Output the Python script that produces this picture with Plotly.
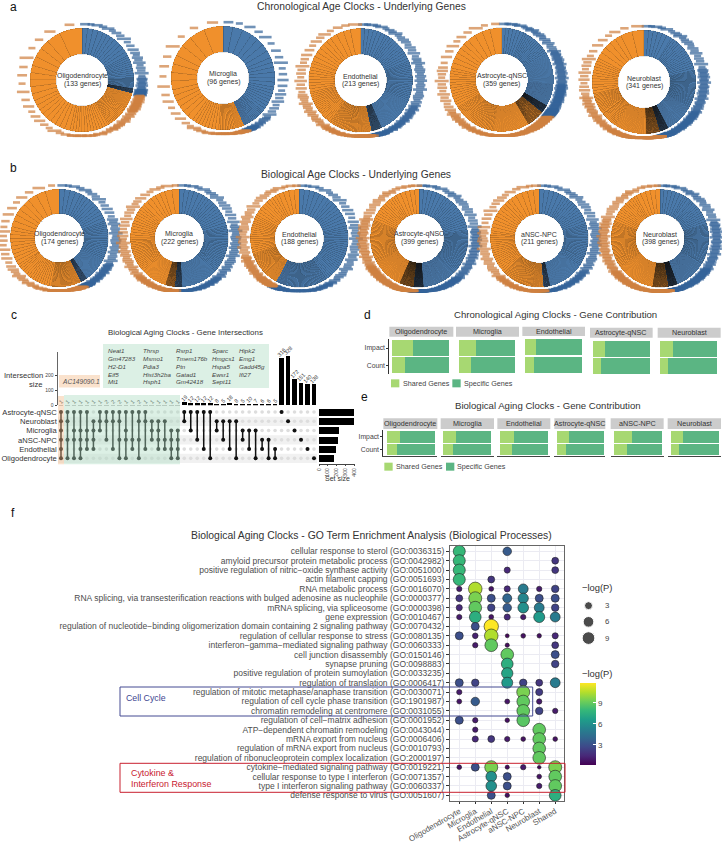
import numpy as np
import plotly.graph_objects as go

W, H = 722, 844
FONT = "Liberation Sans"
BLUE, ORANGE = "#4a79aa", "#f0902c"
LBL_BLUE, LBL_ORANGE = "#35649a", "#cf8040"
SHARED, SPECIFIC = "#a7d872", "#5bb583"

# ---------- donuts: wedge runs (count, degrees per wedge) clockwise from top
A_TITLE = "Chronological Age Clocks - Underlying Genes"
B_TITLE = "Biological Age Clocks - Underlying Genes"
donut_names_a = ["Oligodendrocyte", "Microglia", "Endothelial", "Astrocyte-qNSC", "Neuroblast"]
donut_genes_a = [133, 96, 213, 359, 341]
donut_split_a = [105, 156, 168, 129, 162]
blue_n_a = [[4, 8, 10, 10, 26], [3, 4, 6, 8, 9, 20], [6, 12, 22, 35, 40], [6, 14, 30, 45, 80], [6, 16, 33, 50, 75]]
blue_w_a = [[6, 4.5, 2.5, 1.2, .2], [12, 9, 6, 4, 2, .5], [4, 2.8, 1.8, 1, .25], [3, 1.8, .8, .4, .08], [4, 2.2, 1, .5, .1]]
orange_n_a = [[27, 16, 13, 9, 5, 3, 1, 1], [14, 10, 8, 6, 4, 2, 1, 1], [35, 25, 18, 10, 6, 3, 1], [80, 50, 30, 14, 6, 3, 1], [70, 45, 27, 12, 5, 2]]
orange_w_a = [[.6, 1.6, 3.2, 5.5, 7.5, 10, 15, 24], [.7, 2, 4, 7, 10, 13, 18, 22], [.5, 1.5, 2.5, 4, 6, 9, 13], [.25, .8, 1.6, 3.2, 6, 9, 13], [.25, .9, 1.8, 3.8, 8, 15]]

donut_names_b = ["Oligodendrocyte", "Microglia", "Endothelial", "Astrocyte-qNSC", "aNSC-NPC", "Neuroblast"]
donut_genes_b = [174, 222, 188, 399, 211, 398]
donut_split_b = [154, 185, 208, 187, 175, 170]
blue_n_b = [[4, 10, 20, 26, 30], [5, 12, 28, 35, 35], [5, 10, 25, 35, 30], [6, 15, 35, 60, 89], [5, 12, 25, 35, 33], [6, 15, 35, 60, 89]]
blue_w_b = [[6, 4, 2.2, 1, .25], [5, 3.2, 1.8, 1, .2], [5, 3.5, 2.2, 1.2, .3], [4, 2.4, 1.2, .5, .1], [5, 3, 1.8, 1, .2], [4, 2.4, 1.2, .5, .1]]
orange_n_b = [[30, 20, 16, 10, 5, 2, 1], [40, 28, 20, 12, 5, 2], [30, 22, 18, 9, 4], [90, 55, 32, 12, 5], [38, 28, 20, 10, 5], [85, 55, 35, 13, 5]]
orange_w_b = [[.4, 1.3, 3.2, 5, 8, 12, 18], [.3, 1.1, 2.2, 3.6, 6, 9], [.5, 1.2, 2.5, 3.8, 6], [.2, .7, 1.7, 3.5, 6], [.35, 1.3, 2.6, 4.4, 7], [.25, .9, 1.8, 3.4, 6.5]]
gene_label_widths = [7, 5, 8, 6, 9, 5, 7, 6, 10, 5, 6, 8]

# ---------- upset
set_names = ["Astrocyte-qNSC", "Neuroblast", "Microglia", "aNSC-NPC", "Endothelial", "Oligodendrocyte"]
set_sizes = [399, 398, 222, 211, 188, 174]
combos = ["ANMaEO", "ANaO", "AMaO", "AMaEO", "AMaE", "NMaE", "ANM", "ANa", "ANE", "ANaO", "AMaO", "AaE", "ANaO", "ANE",
          "NMa", "NMaE", "NaE", "MaEO", "MaEO",
          "AN", "AM", "Aa", "AE", "AO", "NM", "Na", "NE", "NO", "Ma", "ME", "MO", "aE", "aO", "EO",
          "A", "N", "M", "a", "E", "O"]
combo_sizes = [1, 1, 1, 1, 1, 1, 1, 2, 2, 2, 1, 1, 2, 1, 1, 1, 1, 1, 1,
               19, 12, 12, 12, 12, 8, 5, 18, 8, 5, 10, 7, 6, 6, 5,
               316, 328, 172, 151, 140, 138]
combo_key = "ANMaEO"
gene_cols = [["Neat1", "Gm47283", "H2-D1", "Eif5", "Mt1"],
             ["Thrsp", "Msmo1", "Pdia3", "Hist3h2ba", "Hsph1"],
             ["Rsrp1", "Tmem176b", "Ptn", "Gatad1", "Gm42418"],
             ["Sparc", "Hmgcs1", "Hspa5", "Ewsr1", "Sept11"],
             ["Hipk2", "Emg1", "Gadd45g", "Ifi27"]]

# ---------- contribution bars
d_names = ["Oligodendrocyte", "Microglia", "Endothelial", "Astrocyte-qNSC", "Neuroblast"]
d_impact = [.37, .30, .19, .21, .22]
d_count = [.22, .21, .15, .14, .13]
e_names = ["Oligodendrocyte", "Microglia", "Endothelial", "Astrocyte-qNSC", "aNSC-NPC", "Neuroblast"]
e_impact = [.27, .27, .29, .25, .375, .25]
e_count = [.20, .21, .25, .20, .285, .17]

# ---------- GO dot plot
go_cols = ["Oligodendrocyte", "Microglia", "Endothelial", "Astrocyte-qNSC", "aNSC-NPC", "Neuroblast", "Shared"]
go_terms = [
    "cellular response to sterol (GO:0036315)",
    "amyloid precursor protein metabolic process (GO:0042982)",
    "positive regulation of nitric\u2212oxide synthase activity (GO:0051000)",
    "actin filament capping (GO:0051693)",
    "RNA metabolic process (GO:0016070)",
    "RNA splicing, via transesterification reactions with bulged adenosine as nucleophile (GO:0000377)",
    "mRNA splicing, via spliceosome (GO:0000398)",
    "gene expression (GO:0010467)",
    "regulation of nucleotide\u2212binding oligomerization domain containing 2 signaling pathway (GO:0070432)",
    "regulation of cellular response to stress (GO:0080135)",
    "interferon\u2212gamma\u2212mediated signaling pathway (GO:0060333)",
    "cell junction disassembly (GO:0150146)",
    "synapse pruning (GO:0098883)",
    "positive regulation of protein sumoylation (GO:0033235)",
    "regulation of translation (GO:0006417)",
    "regulation of mitotic metaphase/anaphase transition (GO:0030071)",
    "regulation of cell cycle phase transition (GO:1901987)",
    "chromatin remodeling at centromere (GO:0031055)",
    "regulation of cell\u2212matrix adhesion (GO:0001952)",
    "ATP\u2212dependent chromatin remodeling (GO:0043044)",
    "mRNA export from nucleus (GO:0006406)",
    "regulation of mRNA export from nucleus (GO:0010793)",
    "regulation of ribonucleoprotein complex localization (GO:2000197)",
    "cytokine\u2212mediated signaling pathway (GO:0019221)",
    "cellular response to type I interferon (GO:0071357)",
    "type I interferon signaling pathway (GO:0060337)",
    "defense response to virus (GO:0051607)",
]
_ = None
go_values = [
    [8, _, _, 3.5, _, _, _],
    [8, _, _, _, _, _, 2],
    [8, _, _, 1.5, _, _, 2],
    [8, _, 2, _, _, _, _],
    [1, 10.5, .8, 1.5, 5, 1, 2.5],
    [2, 9.5, 3, 4, 5.5, 3, 3],
    [1.5, 9, 2.5, 3.5, 6, 5, 2.5],
    [1, 7.5, .8, 1.5, 1, 6.5, 5],
    [_, 3, 11.9, _, _, _, _],
    [3, 1.2, 10.5, .4, .7, .6, 1.5],
    [_, 1, 9, .5, _, _, 2],
    [_, _, _, 9, _, _, 3],
    [_, _, _, 7.5, _, _, 2.5],
    [_, _, _, 7, _, _, _],
    [3, 2.5, _, 6.5, 2.5, 2, 5],
    [1, _, _, _, 9.5, 2.2, _],
    [.8, 3.5, _, .8, 9, 1, _],
    [_, _, _, _, 9, 2.5, 1],
    [3, 1, _, .6, 8.8, _, _],
    [_, 1, _, _, _, 9, _],
    [_, 1.5, 2, 1, .7, 9, .7],
    [_, _, _, _, _, 9, _],
    [_, _, _, _, _, 9, _],
    [.7, 3, 9.5, .5, 1, .3, 9.5],
    [_, _, 6, 3, _, .7, 9],
    [_, _, 6, 3, _, 1, 9],
    [_, _, 3, .6, _, _, 7.5],
]
size_legend_values = [3, 6, 9]

# ---------- helpers
def px(x): return x / W
def py(y): return 1 - y / H

fig = go.Figure()
layout = dict(template="none", width=W, height=H, margin=dict(l=0, r=0, t=0, b=0, pad=0, autoexpand=False),
              paper_bgcolor="white", plot_bgcolor="white",
              showlegend=False, barmode="stack", font=dict(family=FONT, color="#333333"), hovermode=False)
annots, shapes = [], []
n_ax = [0]; n_pol = [0]

def text(x, y, s, size, color="#333333", xa="center", ya="middle", **kw):
    annots.append(dict(x=px(x), y=py(y), xref="paper", yref="paper", text=s, showarrow=False,
                       font=dict(size=size, color=color, family=FONT), xanchor=xa, yanchor=ya,
                       borderpad=0, **kw))

def rect(x0, y0, x1, y1, fill=None, line=None, lw=1, layer="above"):
    shapes.append(dict(type="rect", xref="paper", yref="paper", x0=px(x0), x1=px(x1), y0=py(y0), y1=py(y1),
                       fillcolor=fill or "rgba(0,0,0,0)", line=dict(width=lw if line else 0, color=line or "rgba(0,0,0,0)"),
                       layer=layer))

def axes(x0, x1, y0, y1, xo, yo):
    n_ax[0] += 1
    s = "" if n_ax[0] == 1 else str(n_ax[0])
    layout["xaxis" + s] = dict(domain=[px(x0), px(x1)], anchor="y" + s, automargin=False, **xo)
    layout["yaxis" + s] = dict(domain=[py(y1), py(y0)], anchor="x" + s, automargin=False, **yo)
    return "x" + s, "y" + s

def donut(cx, cy, R, name, genes, split, bn, bw, on, ow):
    n_pol[0] += 1
    s = "" if n_pol[0] == 1 else str(n_pol[0])
    rmax = 1.2
    half = R * rmax
    layout["polar" + s] = dict(domain=dict(x=[px(cx - half), px(cx + half)], y=[py(cy + half), py(cy - half)]),
                               bgcolor="rgba(0,0,0,0)",
                               radialaxis=dict(visible=False, range=[0, rmax]),
                               angularaxis=dict(visible=False, rotation=90, direction="clockwise"))
    blue = np.repeat(bw, bn).astype(float); blue *= split / blue.sum()
    orange = np.repeat(ow, on).astype(float); orange *= (360 - split) / orange.sum()
    widths = np.r_[blue, orange]
    mids = np.cumsum(widths) - widths / 2
    cols = [BLUE] * len(blue) + [ORANGE] * len(orange)
    edge = np.select([widths >= 1.2, widths < 0.33], [0.2, 0.22], default=0.07)
    fig.add_trace(go.Barpolar(subplot="polar" + s, theta=mids, width=widths, base=0.5, r=np.full(len(widths), 0.5),
                              marker=dict(color=cols, line=dict(color="rgba(15,15,15,0.55)", width=edge))))
    rl = 1.07 + 0.085 * np.abs(np.sin(np.radians(mids)))
    sizes = np.resize(gene_label_widths, len(mids))
    lcols = [LBL_BLUE] * len(blue) + [LBL_ORANGE] * len(orange)
    fig.add_trace(go.Scatterpolar(subplot="polar" + s, theta=mids, r=rl, mode="markers", cliponaxis=False,
                                  marker=dict(symbol="line-ew", size=sizes, color=lcols,
                                              line=dict(color=lcols, width=2.6))))
    text(cx, cy - 4, name, 7)
    text(cx, cy + 4, f"({genes} genes)", 7)

# ---------- panel a, b
centers_a = [(82, 80), (223, 78), (360.7, 80.3), (501.7, 79.7), (644, 82)]
for i, c in enumerate(centers_a):
    donut(c[0], c[1], 52, donut_names_a[i], donut_genes_a[i], donut_split_a[i], blue_n_a[i], blue_w_a[i], orange_n_a[i], orange_w_a[i])
centers_b = [(59.3, 238), (179.3, 238), (299.3, 238.3), (419.3, 238.3), (539.3, 238.3), (660, 238.3)]
for i, c in enumerate(centers_b):
    donut(c[0], c[1], 49, donut_names_b[i], donut_genes_b[i], donut_split_b[i], blue_n_b[i], blue_w_b[i], orange_n_b[i], orange_w_b[i])
text(361, 6.5, A_TITLE, 10.3)
text(356, 174.5, B_TITLE, 10.3)
for lab, x, y in [("a", 14, 7), ("b", 14, 168), ("c", 14, 315), ("d", 367, 315), ("e", 365, 397), ("f", 13, 513)]:
    text(x, y, lab, 12, color="#111111")

# ---------- panel c: upset
ncol = len(combos)
cols_x = np.arange(ncol)
xa, ya = axes(57.75, 317.25, 352, 405.3,
              dict(range=[-.5, ncol - .5], visible=False, fixedrange=True),
              dict(range=[0, 353], tickvals=[0, 100, 200], tickfont=dict(size=5, color="#444"), ticks="outside", ticklen=2,
                   tickwidth=.6, showline=True, linecolor="#666", linewidth=1.2, showgrid=False, zeroline=False, fixedrange=True))
fig.add_trace(go.Bar(x=cols_x, y=combo_sizes, xaxis=xa, yaxis=ya, width=.72, marker=dict(color="black"),
                     text=[str(v) for v in combo_sizes], textposition="outside", textangle=-45, cliponaxis=False,
                     textfont=dict(size=5.5, color="#333"), constraintext="none"))
xm, ym = axes(57.75, 317.25, 407.4, 463,
              dict(range=[-.5, ncol - .5], visible=False, fixedrange=True),
              dict(range=[5.5, -.5], tickvals=list(range(6)), ticktext=set_names, tickfont=dict(size=7.6, color="#333"),
                   showgrid=False, zeroline=False, showline=False, ticks="", ticklen=0, fixedrange=True))
for r in [1, 3, 5]:
    shapes.append(dict(type="rect", xref=xm, yref=ym, x0=-.5, x1=ncol - .5, y0=r - .5, y1=r + .5,
                       fillcolor="#f1f1f1", line=dict(width=0), layer="below"))
gx, gy = np.meshgrid(cols_x, np.arange(6))
fig.add_trace(go.Scatter(x=gx.ravel(), y=gy.ravel(), xaxis=xm, yaxis=ym, mode="markers", cliponaxis=False,
                         marker=dict(size=3.6, color="#dddddd")))
dx, dy, lx, ly = [], [], [], []
for j, c in enumerate(combos):
    rows = [combo_key.index(ch) for ch in c]
    dx += [j] * len(rows); dy += rows
    lx += [j, j, None]; ly += [min(rows), max(rows), None]
fig.add_trace(go.Scatter(x=lx, y=ly, xaxis=xm, yaxis=ym, mode="lines", line=dict(color="#111", width=1.5)))
fig.add_trace(go.Scatter(x=dx, y=dy, xaxis=xm, yaxis=ym, mode="markers", marker=dict(size=4, color="#111")))
xs, ys = axes(319, 354.2, 407.4, 463.5,
              dict(range=[0, 400], tickvals=[0, 100, 200, 300, 400], tickangle=-90, tickfont=dict(size=5, color="#444"),
                   ticks="outside", ticklen=2, tickwidth=.6, showline=True, linecolor="#444", linewidth=.6, showgrid=False, zeroline=False, fixedrange=True),
              dict(range=[5.5, -.5], visible=False, fixedrange=True))
fig.add_trace(go.Bar(x=set_sizes, y=list(range(6)), orientation="h", xaxis=xs, yaxis=ys, width=.74, marker=dict(color="black")))
TINT_G, TINT_O = "rgba(172,220,192,0.42)", "rgba(242,187,137,0.42)"
rect(64, 395, 180, 464.3, fill=TINT_G)
rect(58, 396, 64, 464.3, fill=TINT_O)
rect(59, 375, 100, 387.5, fill=TINT_O)
rect(103, 344, 269, 388, fill=TINT_G)
text(60.5, 381, "<i>AC149090.1</i>", 6.6, color="#555", xa="left")
for cx, col in zip([106.5, 141.5, 175, 210.5, 238], gene_cols):
    for y, g in zip([350, 358, 366, 374, 381.8], col):
        text(cx, y, f"<i>{g}</i>", 6.2, color="#444", xa="left")
text(185, 332.5, "Biological Aging Clocks - Gene Intersections", 7.9)
text(44, 375.5, "Intersection", 7.6, xa="right")
text(44, 384, "size", 7.6, xa="right")
text(337, 478.5, "Set size", 7)

# ---------- panels d, e
ROWS = ["Count", "Impact"]
def stack_panel(strip, bar, y0, y1, strip_y, name, imp, cnt, first, fs, bottom):
    span = bar[1] - bar[0]
    xo = dict(range=[-(bar[0] - strip[0]) / span, 1 + (strip[1] - bar[1]) / span], visible=bottom, showticklabels=False, ticks="",
              showgrid=False, zeroline=False, showline=bottom, linecolor="#444", linewidth=1, fixedrange=True)
    yo = dict(categoryorder="array", categoryarray=ROWS, range=[-.5, 1.5], showgrid=False, zeroline=False, fixedrange=True,
              showticklabels=first, ticks="outside" if first else "", ticklen=2, tickcolor="#333",
              showline=first, linecolor="#333", linewidth=1, tickfont=dict(size=6.8, color="#444"))
    x, y = axes(strip[0], strip[1], y0, y1, xo, yo)
    fig.add_trace(go.Bar(y=ROWS, x=[cnt, imp], orientation="h", xaxis=x, yaxis=y, marker=dict(color=SHARED, line=dict(width=0))))
    fig.add_trace(go.Bar(y=ROWS, x=[1 - cnt, 1 - imp], orientation="h", xaxis=x, yaxis=y, marker=dict(color=SPECIFIC, line=dict(width=0))))
    rect(strip[0], strip_y[0], strip[1], strip_y[1], fill="#cccccc")
    text((strip[0] + strip[1]) / 2, (strip_y[0] + strip_y[1]) / 2, name, fs)

Z = lambda v: 370 + v / 3
ZY = lambda v: 300 + v / 3
d_strip = [(58, 250), (258, 447), (457, 645), (660, 848), (863, 1052)]
d_bar = [(67, 237), (267, 436), (465, 636), (669, 840), (871, 1041)]
d_top = [118, 118, 116, 120, 120]
d_sy = [(80, 110), (80, 110), (80, 108), (83, 113), (83, 113)]
for i in range(5):
    stack_panel((Z(d_strip[i][0]), Z(d_strip[i][1])), (Z(d_bar[i][0]), Z(d_bar[i][1])), ZY(d_top[i]), ZY(d_top[i] + 104),
                (ZY(d_sy[i][0]), ZY(d_sy[i][1])), d_names[i], d_impact[i], d_count[i], i == 0, 7.2, False)
e_strip = [(43, 202), (212, 372), (382, 541), (553, 706), (722, 881), (893, 1053)]
e_bar = [(51, 195), (220, 363), (390, 534), (560, 703), (731, 875), (902, 1046)]
for i in range(6):
    stack_panel((Z(e_strip[i][0]) - (1 if i == 0 else 0), Z(e_strip[i][1])), (Z(e_bar[i][0]), Z(e_bar[i][1])), ZY(391), ZY(468),
                (ZY(355), ZY(387)), e_names[i], e_impact[i], e_count[i], i == 0, 7.2, True)
layout["bargap"] = 0.09
text(555, 314, "Chronological Aging Clocks - Gene Contribution", 9.6)
text(548, 405.7, "Biological Aging Clocks - Gene Contribution", 9.6)
for y, x1, t1, x2, t2 in [(ZY(250), 63, 96, 247, 279), (ZY(500), 43, 76, 228, 258)]:
    rect(Z(x1), y - 4, Z(x1 + 25), y + 4, fill=SHARED)
    text(Z(t1), y, "Shared Genes", 7.2, xa="left", color="#444")
    rect(Z(x2), y - 4, Z(x2 + 25), y + 4, fill=SPECIFIC)
    text(Z(t2), y, "Specific Genes", 7.2, xa="left", color="#444")

# ---------- panel f
def dot_d(v): return 1.6 + 3.7 * np.sqrt(np.asarray(v, dtype=float))
rows, cols, vals = [], [], []
for i, row in enumerate(go_values):
    for j, v in enumerate(row):
        if v is not None:
            rows.append(i); cols.append(j); vals.append(v)
xd, yd = axes(450, 564, 546, 800.7,
              dict(range=[-.58, 6.55], tickvals=list(range(7)), ticktext=go_cols, tickangle=-30, tickfont=dict(size=8, color="#555"),
                   ticks="outside", ticklen=2, tickcolor="#333", showgrid=True, gridcolor="#ebebf2", gridwidth=.8, zeroline=False,
                   showline=True, mirror=True, linecolor="#666", linewidth=1, fixedrange=True),
              dict(range=[26.57, -.57], tickvals=list(range(27)), ticktext=go_terms, tickfont=dict(size=8.5, color="#4d4d4d"),
                   ticks="outside", ticklen=3, tickcolor="#333", showgrid=True, gridcolor="#ebebf2", gridwidth=.8, zeroline=False,
                   showline=True, mirror=True, linecolor="#666", linewidth=1, fixedrange=True))
fig.add_trace(go.Scatter(x=cols, y=rows, xaxis=xd, yaxis=yd, mode="markers", cliponaxis=False,
                         marker=dict(size=dot_d(vals), color=vals, colorscale="Viridis", cmin=.14, cmax=11.9,
                                     opacity=1, line=dict(color="#222", width=.6),
                                     colorbar=dict(x=px(580), xanchor="left", xpad=0, y=py(682.7), yanchor="top", ypad=0,
                                                   thickness=16.3, lenmode="pixels", len=82.3, outlinewidth=0,
                                                   tickvals=[3, 6, 9], ticks="inside", tickcolor="white", ticklen=3,
                                                   tickfont=dict(size=8, color="#444")))))
text(371.5, 535.5, "Biological Aging Clocks - GO Term Enrichment Analysis (Biological Processes)", 10.4)
rect(120, 687, 532.7, 716, line="#454b92", lw=1)
rect(120, 763.3, 565, 792.3, line="#c8202f", lw=1)
text(125, 697.5, "Cell Cycle", 8.8, color="#3d4590", xa="left")
text(130, 772.7, "Cytokine &", 8.9, color="#c8202f", xa="left")
text(130, 783.5, "Interferon Response", 8.9, color="#c8202f", xa="left")
text(581, 587.5, "\u2212log(P)", 9.4, xa="left")
text(581, 673, "\u2212log(P)", 9.4, xa="left")
xl, yl = axes(580, 597, 597, 647,
              dict(range=[0, 1], visible=False, fixedrange=True),
              dict(range=[10.65, 1.4], visible=False, fixedrange=True))
fig.add_trace(go.Scatter(x=[.5] * 3, y=size_legend_values, xaxis=xl, yaxis=yl, mode="markers", cliponaxis=False,
                         marker=dict(size=dot_d(size_legend_values), color="black")))
for y, v in zip([605.7, 621.7, 638.3], size_legend_values):
    text(604, y, str(v), 7.8, xa="left", color="#444")

layout["annotations"] = annots
layout["shapes"] = shapes
fig.update_layout(**layout)
fig.write_html("out.html", post_script="document.body.style.margin='0';", config=dict(displayModeBar=False))
